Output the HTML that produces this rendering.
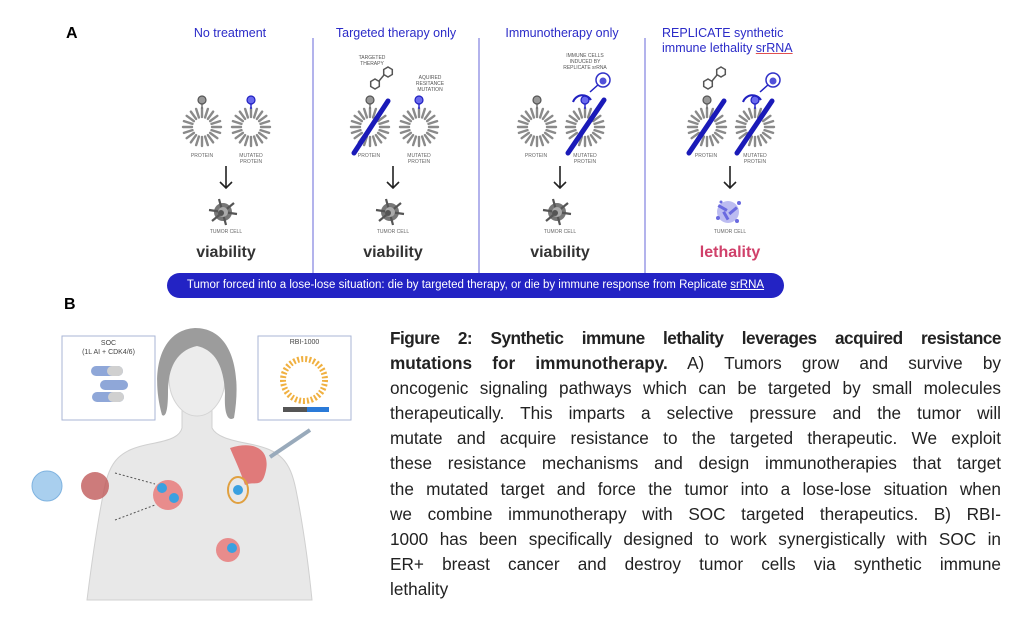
<!DOCTYPE html>
<html><head><meta charset="utf-8"><style>
body{margin:0;background:#fff;width:1024px;height:641px;overflow:hidden;position:relative;font-family:"Liberation Sans",sans-serif}
.t{position:absolute;font-family:"Liberation Sans",sans-serif}
.tx{position:absolute;left:390px;top:326px;width:611px;font-size:17.2px;color:#222;line-height:25.1px}
.tx div{text-align:justify;text-align-last:justify;white-space:nowrap}
.tx div.l{text-align-last:left}
</style></head><body>
<svg width="1024" height="641" style="position:absolute;left:0;top:0">
<defs>
<g id="prot">
 <g stroke="#8a8a8a" stroke-width="2.4" stroke-linecap="round">
 <line x1="0" y1="-10" x2="0" y2="-19" transform="rotate(0)"/><line x1="0" y1="-10" x2="0" y2="-19" transform="rotate(18)"/><line x1="0" y1="-10" x2="0" y2="-19" transform="rotate(36)"/><line x1="0" y1="-10" x2="0" y2="-19" transform="rotate(54)"/><line x1="0" y1="-10" x2="0" y2="-19" transform="rotate(72)"/><line x1="0" y1="-10" x2="0" y2="-19" transform="rotate(90)"/><line x1="0" y1="-10" x2="0" y2="-19" transform="rotate(108)"/><line x1="0" y1="-10" x2="0" y2="-19" transform="rotate(126)"/><line x1="0" y1="-10" x2="0" y2="-19" transform="rotate(144)"/><line x1="0" y1="-10" x2="0" y2="-19" transform="rotate(162)"/><line x1="0" y1="-10" x2="0" y2="-19" transform="rotate(180)"/><line x1="0" y1="-10" x2="0" y2="-19" transform="rotate(198)"/><line x1="0" y1="-10" x2="0" y2="-19" transform="rotate(216)"/><line x1="0" y1="-10" x2="0" y2="-19" transform="rotate(234)"/><line x1="0" y1="-10" x2="0" y2="-19" transform="rotate(252)"/><line x1="0" y1="-10" x2="0" y2="-19" transform="rotate(270)"/><line x1="0" y1="-10" x2="0" y2="-19" transform="rotate(288)"/><line x1="0" y1="-10" x2="0" y2="-19" transform="rotate(306)"/><line x1="0" y1="-10" x2="0" y2="-19" transform="rotate(324)"/><line x1="0" y1="-10" x2="0" y2="-19" transform="rotate(342)"/>
 </g>
</g>
<g id="lolg"><line x1="0" y1="-18" x2="0" y2="-23" stroke="#777" stroke-width="1.5"/><circle cx="0" cy="-27" r="4" fill="#999" stroke="#555" stroke-width="1.2"/></g>
<g id="lolb"><line x1="0" y1="-18" x2="0" y2="-23" stroke="#2a2ad0" stroke-width="1.5"/><circle cx="0" cy="-27" r="4" fill="#6a6aee" stroke="#2020c0" stroke-width="1.2"/></g>
<g id="tum"><circle r="9" fill="#777"/><g stroke="#555" stroke-width="2.2"><line x1="-14" y1="-2" x2="14" y2="2"/><line x1="-4" y1="-13" x2="3" y2="13"/><line x1="-11" y1="9" x2="11" y2="-9"/></g><circle r="5" fill="#aaa"/><circle cx="-2" cy="1" r="3" fill="#555"/></g>
<g id="hex" fill="none" stroke="#555" stroke-width="1.5"><polygon points="0,-5 4.3,-2.5 4.3,2.5 0,5 -4.3,2.5 -4.3,-2.5" transform="translate(-8,6)"/><polygon points="0,-5 4.3,-2.5 4.3,2.5 0,5 -4.3,2.5 -4.3,-2.5" transform="translate(5,-6)"/><line x1="-4" y1="3" x2="1" y2="-3"/></g>
<g id="imm"><path d="M-12,8 A10,10 0 0 1 6,6" fill="none" stroke="#2020c0" stroke-width="2"/><line x1="5" y1="-2" x2="14" y2="-10" stroke="#2020c0" stroke-width="1.5"/><circle cx="18" cy="-14" r="7" fill="#fff" stroke="#3030c8" stroke-width="1.5"/><circle cx="18" cy="-13" r="3.5" fill="#5050d8"/></g>
</defs>
<g stroke="#9a9ae6" stroke-width="1.5"><line x1="313" y1="38" x2="313" y2="273"/><line x1="479" y1="38" x2="479" y2="273"/><line x1="645" y1="38" x2="645" y2="273"/></g>
<use href="#prot" x="202" y="127"/><use href="#lolg" x="202" y="127"/>
<use href="#prot" x="251" y="127"/><use href="#lolb" x="251" y="127"/>
<use href="#prot" x="370" y="127"/><use href="#lolg" x="370" y="127"/>
<use href="#prot" x="419" y="127"/><use href="#lolb" x="419" y="127"/>
<use href="#hex" x="383" y="78"/>
<line x1="354" y1="153" x2="388" y2="101" stroke="#1a1ab8" stroke-width="5" stroke-linecap="round"/>
<use href="#prot" x="537" y="127"/><use href="#lolg" x="537" y="127"/>
<use href="#prot" x="585" y="127"/><use href="#lolb" x="585" y="127"/>
<use href="#imm" x="585" y="94"/>
<line x1="568" y1="153" x2="604" y2="100" stroke="#1a1ab8" stroke-width="5" stroke-linecap="round"/>
<use href="#prot" x="707" y="127"/><use href="#lolg" x="707" y="127"/>
<use href="#prot" x="755" y="127"/><use href="#lolb" x="755" y="127"/>
<use href="#hex" x="716" y="78"/><use href="#imm" x="755" y="94"/>
<line x1="689" y1="153" x2="724" y2="101" stroke="#1a1ab8" stroke-width="5" stroke-linecap="round"/>
<line x1="737" y1="153" x2="772" y2="101" stroke="#1a1ab8" stroke-width="5" stroke-linecap="round"/>
<g stroke="#222" stroke-width="1.6" fill="none"><path d="M226,166 V188 M220,182 L226,188 L232,182"/><path d="M393,166 V188 M387,182 L393,188 L399,182"/><path d="M560,166 V188 M554,182 L560,188 L566,182"/><path d="M730,166 V188 M724,182 L730,188 L736,182"/></g>
<use href="#tum" x="223" y="212"/><use href="#tum" x="390" y="212"/><use href="#tum" x="557" y="212"/>
<g fill="#6a6ae0"><circle cx="728" cy="212" r="11" opacity=".45"/><rect x="718" y="206" width="10" height="3" transform="rotate(30 722 207)"/><rect x="728" y="210" width="10" height="3" transform="rotate(-40 732 211)"/><rect x="722" y="214" width="9" height="3" transform="rotate(60 726 215)"/><circle cx="718" cy="218" r="2"/><circle cx="739" cy="203" r="2"/><circle cx="737" cy="221" r="2"/><circle cx="721" cy="202" r="1.5"/></g>
<rect x="167" y="273" width="617" height="25" rx="12.5" fill="#2323c4"/>
<path d="M87,600 C92,560 98,520 104,490 C110,460 120,450 150,444 C172,440 180,436 182,428 L182,410 L212,410 L212,428 C216,436 228,440 250,444 C280,450 290,460 296,490 C302,520 308,560 312,600 Z" fill="#e8e8e8" stroke="#d0d0d0"/>
<ellipse cx="197" cy="378" rx="28" ry="38" fill="#ececec" stroke="#d4d4d4"/>
<path d="M162,415 C150,372 160,330 195,328 C232,328 242,372 234,418 C228,422 224,414 225,394 C224,366 215,350 197,346 C178,350 168,366 168,392 C168,409 166,418 162,415Z" fill="#9c9c9c"/>
<rect x="62" y="336" width="93" height="84" fill="#fff" stroke="#a9b6d6"/>
<rect x="258" y="336" width="93" height="84" fill="#fff" stroke="#a9b6d6"/>
<g fill="#8fa7d8"><rect x="91" y="366" width="32" height="10" rx="5"/><rect x="100" y="380" width="28" height="10" rx="5"/><rect x="92" y="392" width="32" height="10" rx="5"/></g>
<g fill="#d0d0d0"><rect x="107" y="366" width="16" height="10" rx="5"/><rect x="108" y="392" width="16" height="10" rx="5"/></g>
<circle cx="304" cy="380" r="21" fill="none" stroke="#f0b040" stroke-width="6" stroke-dasharray="2 2"/>
<rect x="283" y="407" width="24" height="5" fill="#555"/><rect x="307" y="407" width="22" height="5" fill="#2a7ad8"/>
<path d="M230,448 C255,440 270,450 266,470 C262,490 255,480 245,485 C240,470 235,460 230,448Z" fill="#e07a7a"/>
<line x1="270" y1="457" x2="310" y2="430" stroke="#9ab" stroke-width="4"/>
<circle cx="168" cy="495" r="15" fill="#e88c8c"/><circle cx="162" cy="488" r="5" fill="#3aa0e0"/><circle cx="174" cy="498" r="5" fill="#3aa0e0"/>
<ellipse cx="238" cy="490" rx="10" ry="13" fill="none" stroke="#e0a040" stroke-width="2"/><circle cx="238" cy="490" r="5" fill="#3aa0e0"/>
<circle cx="228" cy="550" r="12" fill="#e88c8c"/><circle cx="232" cy="548" r="5" fill="#3aa0e0"/>
<circle cx="47" cy="486" r="15" fill="#a9cfee" stroke="#7fb3e0"/>
<circle cx="95" cy="486" r="14" fill="#c05a5a" opacity=".8"/>
<g stroke="#555" stroke-dasharray="2 2"><line x1="115" y1="473" x2="155" y2="484"/><line x1="115" y1="520" x2="155" y2="505"/></g>
</svg>
<div class="t" style="left:66px;top:25px;font-size:16px;font-weight:bold">A</div>
<div class="t" style="left:64px;top:296px;font-size:16px;font-weight:bold">B</div>
<div class="t" style="left:150px;top:26px;width:160px;text-align:center;font-size:12.5px;color:#2b2bc8">No treatment</div>
<div class="t" style="left:313px;top:26px;width:166px;text-align:center;font-size:12.5px;color:#2b2bc8">Targeted therapy only</div>
<div class="t" style="left:479px;top:26px;width:166px;text-align:center;font-size:12.5px;color:#2b2bc8">Immunotherapy only</div>
<div class="t" style="left:662px;top:26px;font-size:12.5px;color:#2b2bc8;line-height:15px">REPLICATE synthetic<br>immune lethality <u style="text-decoration-color:#e05050">srRNA</u></div>
<div class="t" style="left:342px;top:55px;width:60px;text-align:center;font-size:5px;color:#555;line-height:6px">TARGETED<br>THERAPY</div>
<div class="t" style="left:400px;top:75px;width:60px;text-align:center;font-size:5px;color:#555;line-height:6px">AQUIRED<br>RESITANCE<br>MUTATION</div>
<div class="t" style="left:545px;top:53px;width:80px;text-align:center;font-size:5px;color:#555;line-height:6px">IMMUNE CELLS<br>INDUCED BY<br>REPLICATE srRNA</div>
<div class="t" style="font-size:5px;color:#666;left:187px;top:153px;width:30px;text-align:center">PROTEIN</div>
<div class="t" style="font-size:5px;color:#666;left:354px;top:153px;width:30px;text-align:center">PROTEIN</div>
<div class="t" style="font-size:5px;color:#666;left:521px;top:153px;width:30px;text-align:center">PROTEIN</div>
<div class="t" style="font-size:5px;color:#666;left:691px;top:153px;width:30px;text-align:center">PROTEIN</div>
<div class="t" style="font-size:5px;color:#666;left:231px;top:153px;width:40px;text-align:center;line-height:6px">MUTATED<br>PROTEIN</div>
<div class="t" style="font-size:5px;color:#666;left:399px;top:153px;width:40px;text-align:center;line-height:6px">MUTATED<br>PROTEIN</div>
<div class="t" style="font-size:5px;color:#666;left:565px;top:153px;width:40px;text-align:center;line-height:6px">MUTATED<br>PROTEIN</div>
<div class="t" style="font-size:5px;color:#666;left:735px;top:153px;width:40px;text-align:center;line-height:6px">MUTATED<br>PROTEIN</div>
<div class="t" style="font-size:5px;color:#666;left:196px;top:229px;width:60px;text-align:center">TUMOR CELL</div>
<div class="t" style="font-size:5px;color:#666;left:363px;top:229px;width:60px;text-align:center">TUMOR CELL</div>
<div class="t" style="font-size:5px;color:#666;left:530px;top:229px;width:60px;text-align:center">TUMOR CELL</div>
<div class="t" style="font-size:5px;color:#666;left:700px;top:229px;width:60px;text-align:center">TUMOR CELL</div>
<div class="t" style="left:166px;top:244px;width:120px;text-align:center;font-size:16px;font-weight:bold;color:#333">viability</div>
<div class="t" style="left:333px;top:244px;width:120px;text-align:center;font-size:16px;font-weight:bold;color:#333">viability</div>
<div class="t" style="left:500px;top:244px;width:120px;text-align:center;font-size:16px;font-weight:bold;color:#333">viability</div>
<div class="t" style="left:670px;top:244px;width:120px;text-align:center;font-size:16px;font-weight:bold;color:#d0406a">lethality</div>
<div class="t" style="left:167px;top:279px;width:617px;text-align:center;font-size:11.5px;color:#fff">Tumor forced into a lose-lose situation: die by targeted therapy, or die by immune response from Replicate <u>srRNA</u></div>
<div class="t" style="left:62px;top:339px;width:93px;text-align:center;font-size:7px;color:#444;line-height:9px">SOC<br>(1L AI + CDK4/6)</div>
<div class="t" style="left:258px;top:339px;width:93px;text-align:center;font-size:7px;color:#444">RBI-1000</div>
<div class="tx">
<div><b style="letter-spacing:-0.5px">Figure 2: Synthetic immune lethality leverages acquired resistance</b></div>
<div><b>mutations for immunotherapy.</b> A) Tumors grow and survive by</div>
<div>oncogenic signaling pathways which can be targeted by small molecules</div>
<div>therapeutically. This imparts a selective pressure and the tumor will</div>
<div>mutate and acquire resistance to the targeted therapeutic. We exploit</div>
<div>these resistance mechanisms and design immunotherapies that target</div>
<div>the mutated target and force the tumor into a lose-lose situation when</div>
<div>we combine immunotherapy with SOC targeted therapeutics. B) RBI-</div>
<div>1000 has been specifically designed to work synergistically with SOC in</div>
<div>ER+ breast cancer and destroy tumor cells via synthetic immune</div>
<div class="l">lethality</div>
</div>
</body></html>
